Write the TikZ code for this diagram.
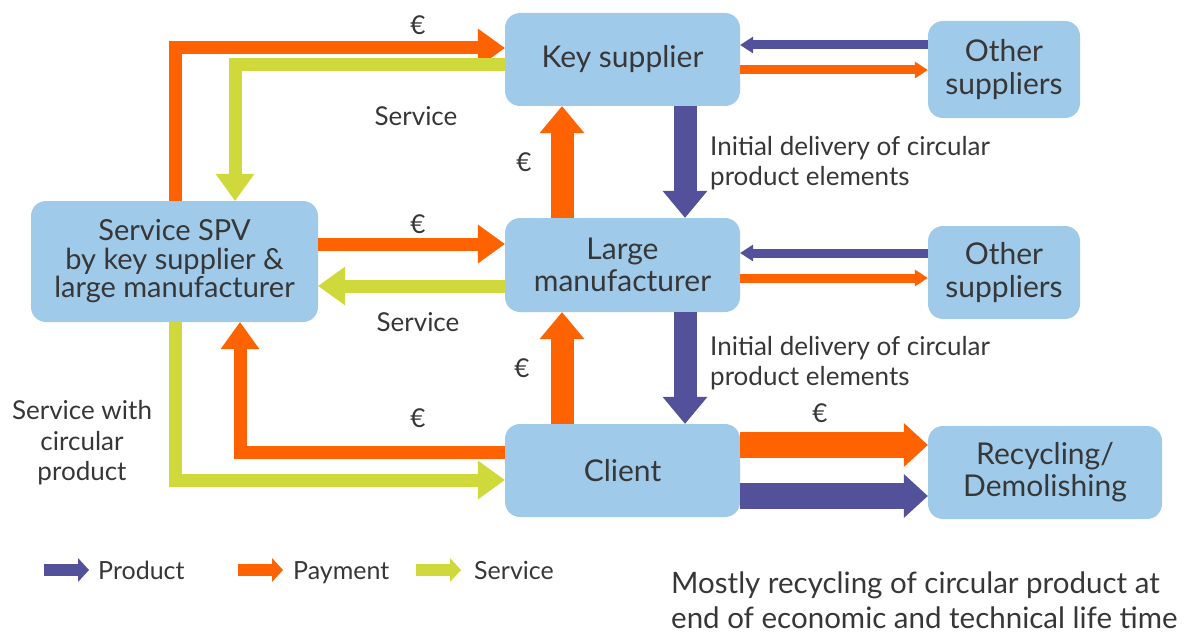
\documentclass[tikz,border=0pt]{standalone}
\usepackage{fontspec}
\setmainfont{Lato}
\usetikzlibrary{arrows.meta}
\definecolor{boxblue}{RGB}{160,202,233}
\definecolor{payorange}{RGB}{255,98,0}
\definecolor{svcgreen}{RGB}{208,217,60}
\definecolor{prodpurple}{RGB}{82,81,153}
\definecolor{txtgray}{RGB}{55,55,55}
\begin{document}
\begin{tikzpicture}[x=1pt,y=-1pt,
  box/.style={fill=boxblue, rounded corners=15pt, align=center, text=txtgray,
    font=\fontsize{30}{33}\selectfont, inner sep=0pt},
  lbl/.style={text=txtgray, font=\fontsize{26}{30}\selectfont, inner sep=0pt},
  % wide connectors (13pt shaft)
  widearr/.style={line width=13pt, -{Triangle[width=39pt,length=27pt,line width=0pt]}},
  % vertical connectors between the middle column boxes
  colarr/.style={line width=23pt, -{Triangle[width=45pt,length=27pt,line width=0pt]}},
  % connectors towards recycling
  recarr/.style={line width=26pt, -{Triangle[width=44pt,length=24pt,line width=0pt]}},
  % thin connectors to other suppliers
  thinarr/.style={line width=9pt, -{Triangle[width=17pt,length=13pt,line width=0pt]}},
  legarr/.style={line width=12pt, -{Triangle[width=24pt,length=11pt,line width=0pt]}},
  legtxt/.style={lbl, anchor=base west, font=\fontsize{25}{30}\selectfont},
  pay/.style={draw=payorange},
  svc/.style={draw=svcgreen},
  prod/.style={draw=prodpurple}
]
\useasboundingbox (0,0) rectangle (1195,634);

% boxes
\node[box, minimum width=235pt, minimum height=93pt] (ks) at (622.5,59.5) {Key supplier};
\node[box, minimum width=152pt, minimum height=97pt] (os1) at (1004,69.5) {Other\\suppliers};
\node[box, minimum width=287pt, minimum height=121pt, font=\fontsize{29}{28.5}\selectfont] (spv) at (174.5,261.5)
  {Service SPV\\by key supplier \&\\large manufacturer};
\node[box, minimum width=235pt, minimum height=94pt, font=\fontsize{30}{32}\selectfont] (lm) at (622.5,265) {Large\\manufacturer};
\node[box, minimum width=152pt, minimum height=93pt] (os2) at (1004,272.5) {Other\\suppliers};
\node[box, minimum width=235pt, minimum height=93pt] (cl) at (622.5,470.5) {Client};
\node[box, minimum width=234pt, minimum height=93pt, font=\fontsize{30}{32}\selectfont] (rc) at (1045,472.5) {Recycling/\\Demolishing};

% SPV <-> key supplier
\draw[pay, widearr] (175,0 |- spv.north) |- (ks.west |- 0,48);
\draw[svc, widearr] (ks.west |- 0,65) -| (235,0 |- spv.north);
% SPV <-> large manufacturer
\draw[pay, widearr] (spv.east |- 0,244) -- (lm.west |- 0,244);
\draw[svc, widearr] (lm.west |- 0,286) -- (spv.east |- 0,286);
% SPV <-> client
\draw[pay, widearr] (cl.west |- 0,452) -| (240,0 |- spv.south);
\draw[svc, widearr] (175,0 |- spv.south) |- (cl.west |- 0,480);

% middle column
\draw[pay, colarr] (562,0 |- lm.north) -- (562,0 |- ks.south);
\draw[prod, colarr] (685,0 |- ks.south) -- (685,0 |- lm.north);
\draw[pay, colarr] (562,0 |- cl.north) -- (562,0 |- lm.south);
\draw[prod, colarr] (685,0 |- lm.south) -- (685,0 |- cl.north);

% other suppliers
\draw[prod, thinarr] (os1.west |- 0,45) -- (ks.east |- 0,45);
\draw[pay, thinarr] (ks.east |- 0,70) -- (os1.west |- 0,70);
\draw[prod, thinarr] (os2.west |- 0,253) -- (lm.east |- 0,253);
\draw[pay, thinarr] (lm.east |- 0,278) -- (os2.west |- 0,278);

% client to recycling
\draw[pay, recarr] (cl.east |- 0,445) -- (rc.west |- 0,445);
\draw[prod, recarr] (cl.east |- 0,496) -- (rc.west |- 0,496);

% labels
\node[lbl] (e1) at (418,25) {€};
\node[lbl] (s1) at (416,116) {Service};
\node[lbl] (e2) at (418,224) {€};
\node[lbl] (s2) at (418,322) {Service};
\node[lbl] (e3) at (524,162) {€};
\node[lbl] (e4) at (522,368) {€};
\node[lbl] (e5) at (418,418) {€};
\node[lbl] (e6) at (820,413) {€};
\node[lbl, anchor=west, align=left] (d1) at (710,163) {Initial delivery of circular\\product elements};
\node[lbl, anchor=west, align=left] (d2) at (710,363) {Initial delivery of circular\\product elements};
\node[lbl, align=center, font=\fontsize{26}{30.5}\selectfont] (swc) at (82,443) {Service with\\circular\\product};
\node[lbl, anchor=west, align=left, font=\fontsize{29.5}{35.5}\selectfont] (note) at (671,600)
  {Mostly recycling of circular product at\\end of economic and technical life time};

% legend
\node[legtxt] (lp) at (98,579) {Product};
\node[legtxt] (lpay) at (293,579) {Payment};
\node[legtxt] (ls) at (474,579) {Service};
\coordinate (lp0) at (44,570);   \coordinate (lp1) at (89,570);
\coordinate (lq0) at (238,570);  \coordinate (lq1) at (283,570);
\coordinate (lr0) at (416,570);  \coordinate (lr1) at (461,570);
\draw[prod, legarr] (lp0) -- (lp1);
\draw[pay, legarr] (lq0) -- (lq1);
\draw[svc, legarr] (lr0) -- (lr1);
\end{tikzpicture}
\end{document}
